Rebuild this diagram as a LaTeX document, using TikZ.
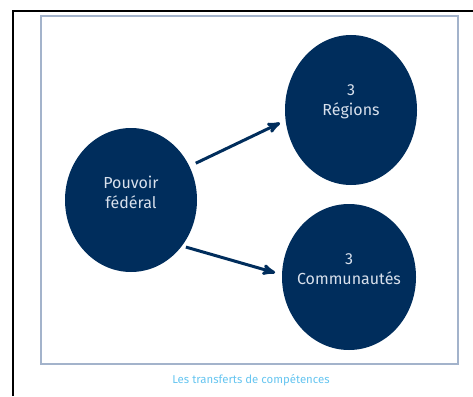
\documentclass[tikz,border=0pt]{standalone}
\usepackage{fontspec}
\setsansfont{Fira Sans}
\usepackage{tikz}
\usetikzlibrary{shapes.geometric}
\usetikzlibrary{arrows}

\definecolor{navy}{HTML}{002D5C}
\definecolor{pale}{HTML}{D8E0EC}
\definecolor{framegray}{HTML}{A3B3CB}
\definecolor{captionblue}{HTML}{66C5F0}

\begin{document}
\begin{tikzpicture}[x=1pt,y=-1pt,>=stealth',
	main node/.style={ellipse,fill=navy,draw=none,inner sep=0pt},
	main text/.style={font=\sffamily\fontsize{16}{20}\selectfont,text=pale,align=center,yshift=8pt},
	link/.style={->,draw=navy,line width=3pt}]
	\useasboundingbox (0,0) rectangle (473,396);
	
	% outer cell border and inner frame
	\draw[line width=2pt] (13,396) -- (13,11) -- (473,11);
	\draw[framegray,line width=2pt] (41,16) rectangle (458,364);
	
	\node[main node,minimum width=132pt,minimum height=144pt,
		label={[main text]center:Pouvoir\\fédéral}] (pf) at (131,200) {};
	\node[main node,minimum width=132pt,minimum height=150pt,
		label={[main text]center:3\\Régions}] (reg) at (351,110) {};
	\node[main node,minimum width=134pt,minimum height=146pt,
		label={[main text]center:3\\Communautés}] (com) at (349,277) {};
	
	\path
	(pf.30) edge [link,shorten <=7pt,shorten >=6pt] (reg.189)
	(pf.-42) edge [link,shorten <=4pt,shorten >=7pt] (com.178);
	
	\node[font=\sffamily\fontsize{11.4}{13}\selectfont,text=captionblue] (cap) at (251,380) {Les transferts de compétences};
\end{tikzpicture}
\end{document}
